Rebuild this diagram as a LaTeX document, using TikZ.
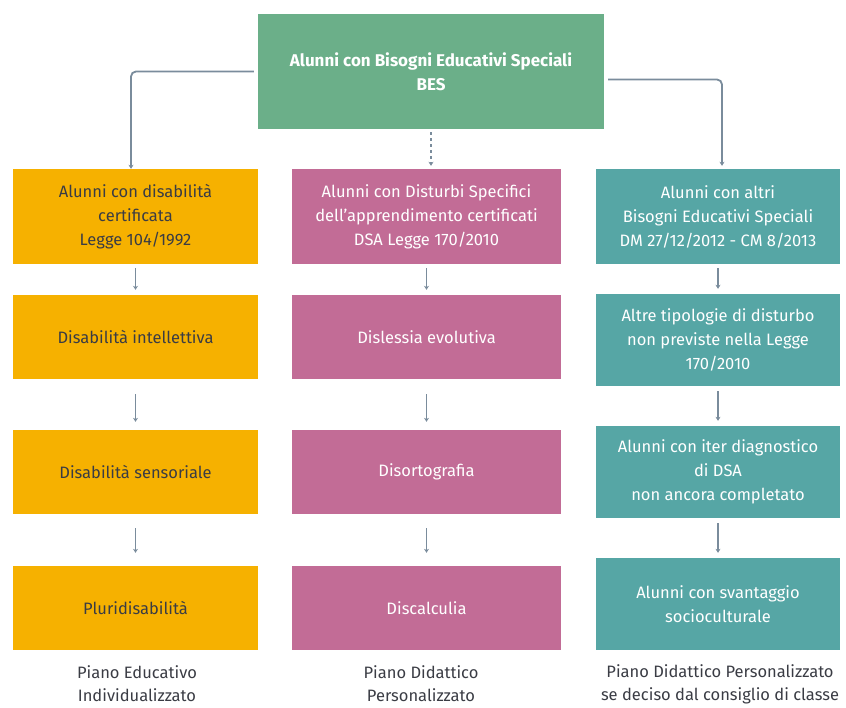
\documentclass[tikz,border=0pt]{standalone}
\usepackage{fontspec}
\setmainfont{Fira Sans}
\definecolor{besgreen}{RGB}{107,175,137}
\definecolor{disorange}{RGB}{246,177,0}
\definecolor{dsapink}{RGB}{194,108,150}
\definecolor{altriteal}{RGB}{86,166,165}
\definecolor{linkgray}{RGB}{122,140,156}
\definecolor{inkdark}{RGB}{58,60,68}
\usetikzlibrary{arrows.meta, positioning, calc}

\begin{document}
\begin{tikzpicture}[
  x=1pt, y=-1pt,
  box/.style={rectangle, align=center, inner sep=2pt,
              font=\fontsize{16.5}{24}\selectfont},
  link/.style={-{Stealth[length=4pt, width=5pt]}, line width=1.8pt, color=linkgray},
  note/.style={align=center, font=\fontsize{16.5}{23}\selectfont, text=inkdark}
]
  \useasboundingbox (0,0) rectangle (846,708);

  % Top node
  \node[box, fill=besgreen, text=white, minimum width=346pt, minimum height=115pt,
        font=\fontsize{17}{24}\selectfont\bfseries] (bes)
    at (431,71.5) {Alunni con Bisogni Educativi Speciali\\BES};

  % Disabilita column
  \node[box, fill=disorange, text=inkdark, minimum width=245pt, minimum height=95pt] (dis1)
    at (135.5,216.5) {Alunni con disabilità\\certificata\\Legge 104/1992};
  \node[box, fill=disorange, text=inkdark, minimum width=245pt, minimum height=84pt] (dis2)
    at (135.5,337) {Disabilità intellettiva};
  \node[box, fill=disorange, text=inkdark, minimum width=245pt, minimum height=84pt] (dis3)
    at (135.5,472) {Disabilità sensoriale};
  \node[box, fill=disorange, text=inkdark, minimum width=245pt, minimum height=84pt] (dis4)
    at (135.5,608) {Pluridisabilità};

  % DSA column
  \node[box, fill=dsapink, text=white, minimum width=269pt, minimum height=95pt] (dsa1)
    at (426.5,216.5) {Alunni con Disturbi Specifici\\dell'apprendimento certificati\\DSA Legge 170/2010};
  \node[box, fill=dsapink, text=white, minimum width=269pt, minimum height=84pt] (dsa2)
    at (426.5,337) {Dislessia evolutiva};
  \node[box, fill=dsapink, text=white, minimum width=269pt, minimum height=84pt] (dsa3)
    at (426.5,472) {Disortografia};
  \node[box, fill=dsapink, text=white, minimum width=269pt, minimum height=84pt] (dsa4)
    at (426.5,608) {Discalculia};

  % Altri BES column
  \node[box, fill=altriteal, text=white, minimum width=244pt, minimum height=95pt] (altri1)
    at (718,216.5) {Alunni con altri\\Bisogni Educativi Speciali\\DM 27/12/2012 - CM 8/2013};
  \node[box, fill=altriteal, text=white, minimum width=244pt, minimum height=92pt] (altri2)
    at (718,340) {Altre tipologie di disturbo\\non previste nella Legge\\170/2010};
  \node[box, fill=altriteal, text=white, minimum width=244pt, minimum height=92pt] (altri3)
    at (718,472) {Alunni con iter diagnostico\\di DSA\\non ancora completato};
  \node[box, fill=altriteal, text=white, minimum width=244pt, minimum height=92pt] (altri4)
    at (718,604) {Alunni con svantaggio\\socioculturale};

  % Arrows from top
  \draw[link, rounded corners=5pt, shorten <=4pt] (bes.west) -| ([xshift=-4.5pt]dis1.north);
  \draw[link, dashed, shorten <=3pt, shorten >=3pt] (bes.south) -- ([xshift=4.5pt]dsa1.north);
  \draw[link, rounded corners=5pt, shorten <=4pt, shorten >=3pt] ([yshift=-8pt]bes.east) -| ([xshift=4pt]altri1.north);

  % Arrows inside columns
  \draw[link, shorten <=4pt, shorten >=5pt] (dis1) -- (dis2);
  \draw[link, shorten <=15pt, shorten >=8pt] (dis2) -- (dis3);
  \draw[link, shorten <=14pt, shorten >=13pt] (dis3) -- (dis4);
  \draw[link, shorten <=4pt, shorten >=5pt] (dsa1) -- (dsa2);
  \draw[link, shorten <=15pt, shorten >=8pt] (dsa2) -- (dsa3);
  \draw[link, shorten <=14pt, shorten >=13pt] (dsa3) -- (dsa4);
  \draw[link, shorten <=4pt, shorten >=5pt] (altri1) -- (altri2);
  \draw[link, shorten <=5pt, shorten >=5pt] (altri2) -- (altri3);
  \draw[link, shorten <=5pt, shorten >=5pt] (altri3) -- (altri4);

  % Notes below
  \node[note] (pei) at (137,684) {Piano Educativo\\Individualizzato};
  \node[note] (pdp) at (421,684) {Piano Didattico\\Personalizzato};
  \node[note] (pdpc) at (720,684) {Piano Didattico Personalizzato\\se deciso dal consiglio di classe};
\end{tikzpicture}
\end{document}
